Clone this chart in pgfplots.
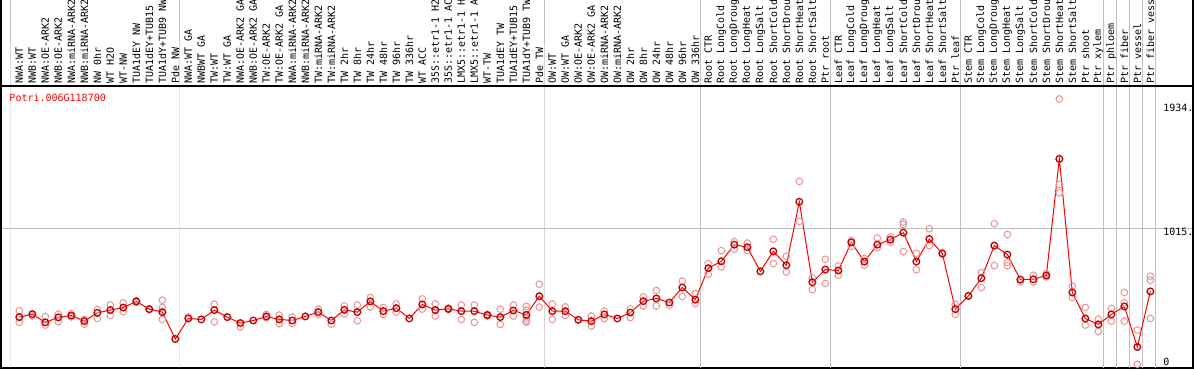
\documentclass[border=0pt]{standalone}
\usepackage{pgfplots}
\pgfplotsset{compat=1.18}
\usepackage{pgfplotstable}
\usepackage{fontspec}
\setmainfont{DejaVu Sans Mono}
\definecolor{gridgray}{RGB}{192,192,192}
\definecolor{reppink}{RGB}{232,150,150}
\definecolor{meanred}{RGB}{255,0,0}
\definecolor{markdark}{RGB}{190,0,0}

\pgfdeclareplotmark{spkcirc}{%
  \pgfpathcircle{\pgfpointorigin}{\pgfplotmarksize}%
  \pgfpathmoveto{\pgfpoint{0pt}{\pgfplotmarksize}}\pgfpathlineto{\pgfpoint{0pt}{1.2\pgfplotmarksize}}%
  \pgfpathmoveto{\pgfpoint{0pt}{-1\pgfplotmarksize}}\pgfpathlineto{\pgfpoint{0pt}{-1.2\pgfplotmarksize}}%
  \pgfpathmoveto{\pgfpoint{\pgfplotmarksize}{0pt}}\pgfpathlineto{\pgfpoint{1.2\pgfplotmarksize}{0pt}}%
  \pgfpathmoveto{\pgfpoint{-1\pgfplotmarksize}{0pt}}\pgfpathlineto{\pgfpoint{-1.2\pgfplotmarksize}{0pt}}%
  \pgfusepathqstroke}

\pgfplotstableread{
x y
0 358
1 380
2 319
3 356
4 370
5 328
6 390
7 410
8 429
9 474
10 417
11 395
12 196
13 348
14 341
15 410
16 358
17 314
18 333
19 363
20 341
21 333
22 363
23 395
24 333
25 412
26 395
27 474
28 402
29 424
30 348
31 452
32 410
33 419
34 402
35 402
36 373
37 358
38 407
39 375
40 513
41 402
42 402
43 338
44 328
45 378
46 348
47 392
48 476
49 496
50 466
51 577
52 488
53 720
54 771
55 894
56 875
57 697
58 845
59 742
60 1212
61 616
62 710
63 703
64 911
65 769
66 894
67 931
68 983
69 769
70 936
71 828
72 417
73 515
74 646
75 887
76 821
77 636
78 638
79 666
80 1529
81 540
82 348
83 304
84 378
85 437
86 137
87 548
}\means

\pgfplotstableread{
x y
0 404
0 319
1 367
2 363
2 299
3 380
3 324
4 385
4 360
5 341
5 306
6 414
6 348
7 449
7 370
8 463
8 398
9 480
9 468
10 415
11 483
11 429
11 341
13 360
15 454
15 323
17 286
19 378
19 353
20 373
20 309
21 358
21 311
23 417
23 378
24 306
25 442
25 380
26 447
26 331
27 503
27 434
28 429
28 378
29 456
29 395
31 493
31 417
32 456
32 366
33 425
33 414
34 447
34 341
35 447
35 319
36 378
36 366
37 417
37 304
38 447
38 366
39 437
39 410
39 350
39 330
39 321
40 601
40 432
41 454
41 341
42 434
42 370
44 366
44 292
45 402
45 348
47 419
47 355
48 508
48 441
49 555
49 441
50 446
51 624
51 511
52 533
52 459
53 754
53 676
54 850
54 730
55 916
55 860
56 906
56 850
58 934
58 754
59 808
59 692
60 1362
60 1066
61 648
61 562
62 786
62 607
63 737
63 668
64 926
64 882
65 793
65 742
66 943
66 872
67 951
67 912
68 1061
68 1044
68 843
69 830
69 710
70 1012
70 887
71 835
72 452
72 378
74 688
74 577
75 1049
75 739
76 970
76 762
76 739
77 619
78 668
78 619
79 680
79 656
80 1972
80 1339
80 1278
81 587
81 503
82 429
82 299
83 343
83 252
84 422
84 328
85 540
85 463
85 328
86 262
86 9
87 660
87 631
87 348
}\reps

\begin{document}
\begin{tikzpicture}
\begin{axis}[
  at={(1pt,2pt)}, anchor=south west,
  scale only axis, width=1192pt, height=282pt,
  xmin=-1.4077, xmax=90.285, ymin=-18.45, ymax=2068,
  clip=false,
  axis line style={black, line width=1.2pt},
  xtick={0,...,87},
  xticklabels={{NWA:WT},{NWB:WT},{NWA:OE-ARK2},{NWB:OE-ARK2},{NWA:miRNA-ARK2},{NWB:miRNA-ARK2},{NW 0hr},{WT H2O},{WT-NW},{TUA1dEY NW},{TUA1dEY+TUB15},{TUA1dY+TUB9 NW},{Pde NW},
    {NWA:WT GA},{NWBWT GA},{TW:WT},{TW:WT GA},{NWA:OE-ARK2 GA},{NWB:OE-ARK2 GA},{TW:OE-ARK2},{TW:OE-ARK2 GA},{NWA:miRNA-ARK2},{NWB:miRNA-ARK2},{TW:miRNA-ARK2},{TW:miRNA-ARK2},{TW 2hr},{TW 8hr},{TW 24hr},{TW 48hr},{TW 96hr},{TW 336hr},{WT ACC},{35S::etr1-1 H2},{35S::etr1-1 AC},{LMX5::etr1-1 H},{LMX5::etr1-1 A},{WT-TW},{TUA1dEY TW},{TUA1dEY+TUB15},{TUA1dY+TUB9 TW},{Pde TW},
    {OW:WT},{OW:WT GA},{OW:OE-ARK2},{OW:OE-ARK2 GA},{OW:miRNA-ARK2},{OW:miRNA-ARK2},{OW 2hr},{OW 8hr},{OW 24hr},{OW 48hr},{OW 96hr},{OW 336hr},
    {Root CTR},{Root LongCold},{Root LongDroug},{Root LongHeat},{Root LongSalt},{Root ShortCold},{Root ShortDrou},{Root ShortHeat},{Root ShortSalt},{Ptr root},
    {Leaf CTR},{Leaf LongCold},{Leaf LongDroug},{Leaf LongHeat},{Leaf LongSalt},{Leaf ShortCold},{Leaf ShortDrou},{Leaf ShortHeat},{Leaf ShortSalt},{Ptr leaf},
    {Stem CTR},{Stem LongCold},{Stem LongDroug},{Stem LongHeat},{Stem LongSalt},{Stem ShortCold},{Stem ShortDrou},{Stem ShortHeat},{Stem ShortSalt},{Ptr shoot},{Ptr xylem},
    {Ptr phloem},{Ptr fiber},{Ptr vessel},{Ptr fiber vess}},
  xticklabel pos=upper,
  xtick style={draw=none},
  xticklabel style={rotate=90, anchor=west, inner sep=2.5pt, font=\fontsize{10}{12}\selectfont},
  ytick={1015}, yticklabels={}, ytick style={draw=none},
  ymajorgrids, major grid style={gridgray, line width=1pt},
]
\pgfplotsinvokeforeach{-0.64,12.36,40.36,52.36,62.36,72.36,83.36,84.36,85.36,86.36,87.36}{
  \draw[gridgray, line width=1pt] (axis cs:#1,-18.45) -- (axis cs:#1,2068) -- ++(0pt,86pt);
}
\draw[black, line width=1.2pt] (rel axis cs:0,1) -- (rel axis cs:1,1);
\draw[black, line width=1.2pt] (rel axis cs:0,1) -- ++(0pt,86pt);
\draw[black, line width=1.2pt] (rel axis cs:1,1) -- ++(0pt,86pt);

\addplot[only marks, mark=spkcirc, mark size=3.3pt, reppink, mark options={line width=1pt}] table[x=x,y=y]{\reps};
\addplot[meanred, line width=1pt, mark=spkcirc, mark size=3.3pt, mark options={draw=markdark, line width=1.3pt}] table[x=x,y=y]{\means};

\node[anchor=base west, inner sep=0pt, text=red] at (axis cs:-0.77,1952) {Potri.006G118700};
\node[anchor=north west, inner sep=0pt] at (axis cs:87.98,1934) {1934.};
\node[anchor=north west, inner sep=0pt] at (axis cs:87.98,1015) {1015.};
\node[anchor=base west, inner sep=0pt] at (axis cs:87.98,0) {0};
\end{axis}
\pgfresetboundingbox
\path[use as bounding box] (0,0) rectangle (1194pt,370pt);
\end{tikzpicture}
\end{document}
